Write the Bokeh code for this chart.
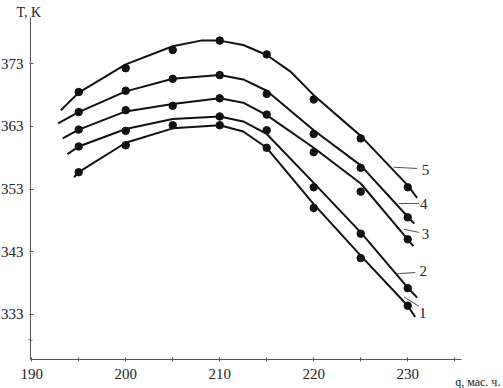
import numpy as np
from bokeh.plotting import figure
from bokeh.models import Range1d, FixedTicker, Label
from bokeh.core.properties import value
from bokeh.embed import file_html
from bokeh.resources import INLINE

# ---- data ----
dot_x = [195, 200, 205, 210, 215, 220, 225, 230]
dots_5 = [368.5, 372.3, 375.2, 376.7, 374.5, 367.3, 361.1, 353.3]
dots_4 = [365.3, 368.7, 370.6, 371.2, 368.2, 361.8, 356.4, 348.5]
dots_3 = [362.5, 365.6, 366.3, 367.5, 364.9, 358.9, 352.6, 345.0]
dots_2 = [359.8, 362.3, 363.2, 364.6, 362.4, 353.3, 345.9, 337.2]
dots_1 = [355.7, 360.0, float("nan"), 363.2, 359.6, 350.0, 342.0, 334.4]

curve_x_5 = [193.1, 195, 200, 205, 208, 210, 212.5, 215, 217.5, 220, 225, 230, 231.0]
curve_y_5 = [365.6, 368.4, 372.9, 375.8, 376.7, 376.7, 376.0, 374.4, 371.8, 368.0, 361.5, 353.6, 351.6]
curve_x_4 = [192.8, 195, 200, 205, 210, 212.5, 215, 220, 225, 230, 230.7]
curve_y_4 = [363.5, 365.3, 368.6, 370.6, 371.2, 370.5, 368.7, 362.4, 356.8, 348.6, 347.5]
curve_x_3 = [193.3, 195, 200, 205, 210, 212.5, 215, 220, 225, 230, 230.6]
curve_y_3 = [361.1, 362.5, 365.4, 366.6, 367.5, 366.8, 364.8, 359.6, 353.9, 345.0, 343.9]
curve_x_2 = [193.8, 195, 200, 205, 210, 212.5, 215, 220, 225, 230, 231.0]
curve_y_2 = [358.6, 359.8, 362.6, 364.2, 364.6, 363.8, 361.8, 354.0, 346.1, 337.3, 335.7]
curve_x_1 = [194.5, 195, 200, 205, 210, 212.5, 215, 220, 225, 230, 230.8]
curve_y_1 = [354.9, 355.7, 360.4, 362.7, 363.2, 362.2, 359.6, 350.6, 342.4, 334.4, 332.6]

curve_names = ["1", "2", "3", "4", "5"]
name_x = [231.6, 231.65, 231.9, 231.7, 231.9]
name_y = [333.3, 339.9, 345.9, 350.7, 356.0]
leader_x0 = [229.6, 228.9, 229.6, 229.05, 228.5]
leader_y0 = [335.8, 339.5, 346.6, 350.7, 356.5]
leader_x1 = [231.2, 230.8, 231.2, 231.2, 231.0]
leader_y1 = [334.3, 339.7, 346.1, 350.7, 356.3]

x_major = [190, 200, 210, 220, 230]
x_minor = [195, 205, 215, 225, 235]
y_major = [333, 343, 353, 363, 373]

x_axis_extent = (189.87, 235.72)
y_axis_extent = (325.82, 380.39)

FONT = "Liberation Serif"
INK = "#111111"
AXIS = "#555555"

p = figure(width=503, height=388,
           x_range=Range1d(186.68, 240.19), y_range=Range1d(321.19, 383.10),
           output_backend="svg", toolbar_location=None,
           min_border=0, min_border_left=0, min_border_right=0,
           min_border_top=0, min_border_bottom=0)
p.styles = {"position": "absolute", "left": "0px", "top": "0px"}
p.title.visible = False
p.outline_line_color = None
p.xgrid.visible = False
p.ygrid.visible = False
p.background_fill_color = "white"
p.border_fill_color = "white"

for ax in (p.xaxis[0], p.yaxis[0]):
    ax.axis_line_color = AXIS
    ax.axis_line_width = 1
    ax.major_tick_line_color = AXIS
    ax.minor_tick_line_color = AXIS
    ax.major_label_text_font = FONT
    ax.major_label_text_font_size = "15px"
    ax.major_label_text_color = "#222222"

p.xaxis.fixed_location = y_axis_extent[0]
p.xaxis.bounds = x_axis_extent
p.xaxis.ticker = FixedTicker(ticks=x_major, minor_ticks=x_minor)
p.xaxis.major_tick_in = 2
p.xaxis.major_tick_out = 2
p.xaxis.minor_tick_in = 2
p.xaxis.minor_tick_out = 2
p.xaxis.major_label_standoff = 8

p.yaxis.fixed_location = x_axis_extent[0]
p.yaxis.bounds = y_axis_extent
p.yaxis.ticker = FixedTicker(ticks=y_major, minor_ticks=[])
p.yaxis.major_tick_in = 3
p.yaxis.major_tick_out = 1
p.yaxis.minor_tick_in = 0
p.yaxis.minor_tick_out = 0
p.yaxis.major_label_standoff = 6

curves = [(curve_x_1, curve_y_1, dots_1), (curve_x_2, curve_y_2, dots_2),
          (curve_x_3, curve_y_3, dots_3), (curve_x_4, curve_y_4, dots_4),
          (curve_x_5, curve_y_5, dots_5)]
for cx, cy, dy in curves:
    p.line(cx, cy, line_color=INK, line_width=2, line_join="round")
    p.scatter(dot_x, dy, size=7.5, marker="circle", fill_color=INK, line_color=INK)

p.segment(x0=leader_x0, y0=leader_y0, x1=leader_x1, y1=leader_y1,
          line_color="#555555", line_width=1)
p.text(x=name_x, y=name_y, text=curve_names, text_font=value(FONT),
       text_font_size="15px", text_color="#222222",
       text_align="center", text_baseline="middle")

p.add_layout(Label(x=x_axis_extent[0], y=381.2, x_offset=-14, text="T, K", text_font=FONT,
                   text_font_size="14px", text_color="#222222",
                   text_align="left", text_baseline="alphabetic"))
p.add_layout(Label(x=235.05, y=322.2, text="q, мас. ч.", text_font=FONT,
                   text_font_size="12px", text_color="#222222",
                   text_align="left", text_baseline="alphabetic"))
p.add_layout(Label(x=x_axis_extent[0], y=328.85, text="~", text_font=FONT,
                   text_font_size="9px", text_color="#333333",
                   text_align="center", text_baseline="middle"))

open("out.html", "w").write(file_html(p, INLINE))
